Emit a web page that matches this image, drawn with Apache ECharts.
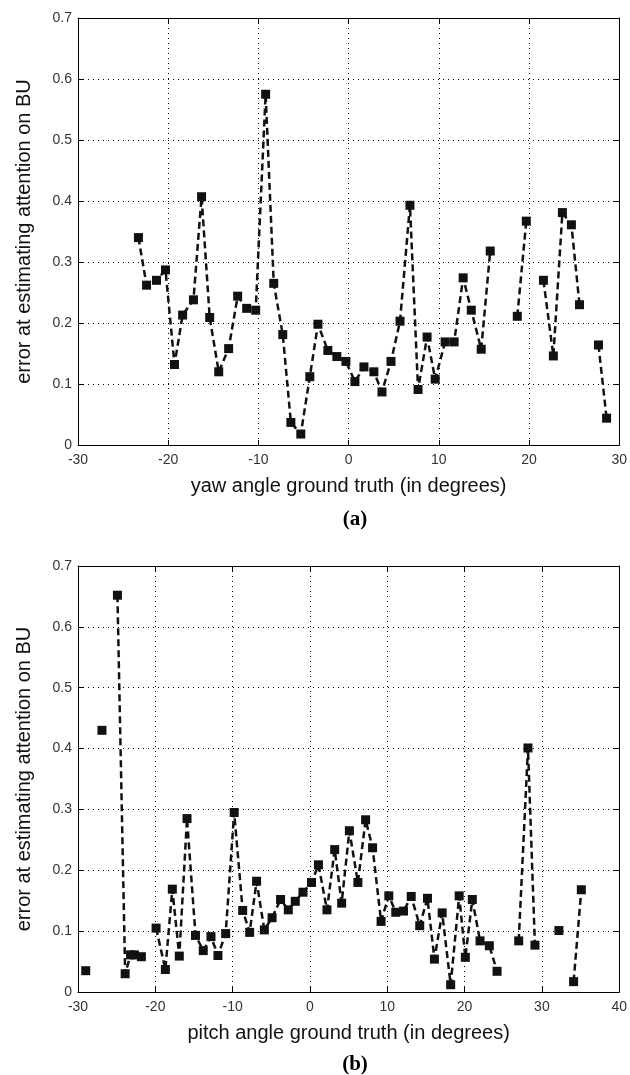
<!DOCTYPE html>
<html>
<head>
<meta charset="utf-8">
<script src="https://cdn.jsdelivr.net/npm/echarts@6/dist/echarts.min.js"></script>
<style>
  html, body { margin: 0; padding: 0; background: #fff; }
  #chart { width: 630px; height: 1075px; }
</style>
</head>
<body>
<div id="chart"></div>
<script>
// null marks a break in the dashed line
const yawAngle = [-23.3, -22.4, -21.3, -20.3, -19.3, -18.4, -17.2, -16.3, -15.4, -14.4, -13.3, -12.3, -11.3, -10.3, -9.2, -8.3, -7.3, -6.4, -5.3, -4.3, -3.4, -2.3, -1.3, -0.3, 0.7, 1.7, 2.8, 3.7, 4.7, 5.7, 6.8, 7.7, 8.7, 9.6, 10.7, 11.7, 12.7, 13.6, 14.7, 15.7, null, 18.7, 19.7, null, 21.6, 22.7, 23.7, 24.7, 25.6, null, 27.7, 28.6];
const yawError = [0.340, 0.262, 0.270, 0.287, 0.132, 0.213, 0.238, 0.407, 0.209, 0.120, 0.158, 0.244, 0.224, 0.221, 0.575, 0.265, 0.181, 0.037, 0.018, 0.112, 0.198, 0.155, 0.145, 0.137, 0.104, 0.128, 0.120, 0.087, 0.137, 0.203, 0.393, 0.091, 0.177, 0.108, 0.169, 0.169, 0.274, 0.221, 0.157, 0.318, null, 0.211, 0.367, null, 0.270, 0.146, 0.381, 0.361, 0.230, null, 0.164, 0.044];

const pitchAngle = [-29.0, null, -26.9, null, -24.9, -23.9, -23.2, -22.7, -21.8, null, -19.9, -18.7, -17.8, -16.9, -15.9, -14.8, -13.8, -12.8, -11.9, -10.9, -9.8, -8.7, -7.8, -6.9, -5.9, -4.9, -3.8, -2.8, -1.9, -0.9, 0.2, 1.1, 2.2, 3.2, 4.1, 5.1, 6.2, 7.2, 8.1, 9.2, 10.2, 11.1, 12.1, 13.1, 14.2, 15.2, 16.1, 17.1, 18.2, 19.3, 20.1, 21.0, 22.0, 23.2, 24.2, null, 27.0, 28.2, 29.1, null, 32.2, null, 34.1, 35.1];
const pitchError = [0.035, null, 0.430, null, 0.652, 0.030, 0.061, 0.061, 0.058, null, 0.105, 0.037, 0.169, 0.059, 0.285, 0.093, 0.068, 0.091, 0.060, 0.096, 0.295, 0.134, 0.098, 0.182, 0.102, 0.122, 0.152, 0.135, 0.149, 0.164, 0.180, 0.209, 0.135, 0.234, 0.146, 0.265, 0.180, 0.283, 0.237, 0.116, 0.158, 0.131, 0.133, 0.157, 0.109, 0.154, 0.054, 0.130, 0.012, 0.158, 0.057, 0.152, 0.084, 0.076, 0.034, null, 0.084, 0.401, 0.077, null, 0.101, null, 0.017, 0.168];

const yTicks = ['0', '0.1', '0.2', '0.3', '0.4', '0.5', '0.6', '0.7'];
const yawTicks = [-30, -20, -10, 0, 10, 20, 30];
const pitchTicks = [-30, -20, -10, 0, 10, 20, 30, 40];
const yTitle = 'error at estimating attention on BU';

function toPoints(xs, ys) {
  return xs.map((x, i) => (x === null ? '-' : [x, ys[i]]));
}

const labelFont = { fontFamily: 'Liberation Sans', fontSize: 14, color: '#333' };
const nameFont = { fontFamily: 'Liberation Sans', fontSize: 20, color: '#111' };
const gridLine = { show: true, lineStyle: { type: [1, 4], color: '#000', width: 1 } };
const frame = { show: true, onZero: false, lineStyle: { color: '#000', width: 1 } };
const tick = { show: true, inside: true, length: 5, lineStyle: { color: '#000' } };

function xAxes(gridIndex, ticks, name) {
  const min = ticks[0], max = ticks[ticks.length - 1];
  return [
    {
      gridIndex, type: 'value', min, max, interval: 10, position: 'bottom',
      axisLine: frame, axisTick: tick, splitLine: gridLine,
      axisLabel: Object.assign({ margin: 8 }, labelFont),
      name, nameLocation: 'middle', nameGap: 31, nameTextStyle: nameFont
    },
    {
      gridIndex, type: 'value', min, max, interval: 10, position: 'top',
      axisLine: frame, axisTick: tick, splitLine: { show: false }, axisLabel: { show: false }
    }
  ];
}

function yAxes(gridIndex) {
  return [
    {
      gridIndex, type: 'value', min: 0, max: 0.7, interval: 0.1, position: 'left',
      axisLine: frame, axisTick: tick, splitLine: gridLine,
      axisLabel: Object.assign({ margin: 6, formatter: (v) => yTicks[Math.round(v * 10)] }, labelFont),
      name: yTitle, nameLocation: 'middle', nameGap: 44, nameTextStyle: nameFont
    },
    {
      gridIndex, type: 'value', min: 0, max: 0.7, interval: 0.1, position: 'right',
      axisLine: frame, axisTick: tick, splitLine: { show: false }, axisLabel: { show: false }
    }
  ];
}

function lineSeries(xAxisIndex, yAxisIndex, data) {
  return {
    type: 'line', xAxisIndex, yAxisIndex, data,
    connectNulls: false,
    symbol: 'rect', symbolSize: 9,
    itemStyle: { color: '#111' },
    lineStyle: { color: '#111', width: 2.5, type: [7, 4] },
    animation: false
  };
}

const chart = echarts.init(document.getElementById('chart'));
chart.setOption({
  animation: false,
  backgroundColor: '#fff',
  title: [
    { text: '(a)', left: 350, top: 504, textAlign: 'center',
      textStyle: { fontFamily: 'Liberation Serif', fontWeight: 'bold', fontSize: 21, color: '#000' } },
    { text: '(b)', left: 350, top: 1049, textAlign: 'center',
      textStyle: { fontFamily: 'Liberation Serif', fontWeight: 'bold', fontSize: 21, color: '#000' } }
  ],
  grid: [
    { left: 78, top: 18, width: 544, height: 427 },
    { left: 78, top: 566, width: 544, height: 426 }
  ],
  xAxis: xAxes(0, yawTicks, 'yaw angle ground truth (in degrees)')
    .concat(xAxes(1, pitchTicks, 'pitch angle ground truth (in degrees)')),
  yAxis: yAxes(0).concat(yAxes(1)),
  series: [
    lineSeries(0, 0, toPoints(yawAngle, yawError)),
    lineSeries(2, 2, toPoints(pitchAngle, pitchError))
  ]
});
</script>
</body>
</html>
